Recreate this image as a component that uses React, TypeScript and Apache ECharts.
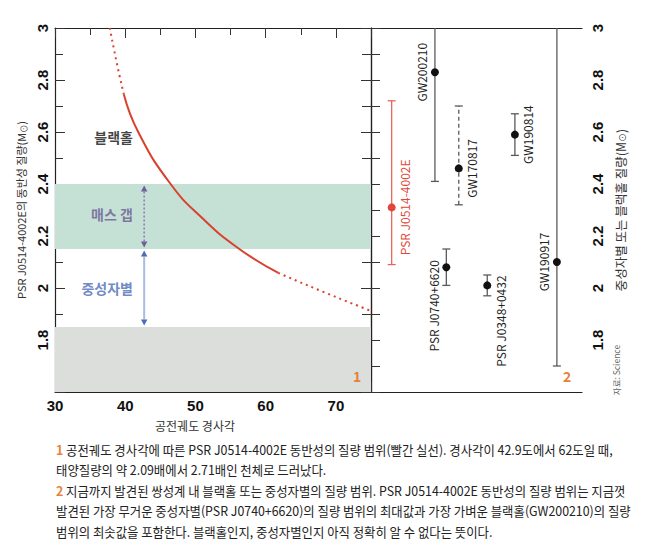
import React, { useEffect, useRef } from "react";
import * as echarts from "echarts";

// ---- Panel 1: companion mass vs orbital inclination ----
const curveUpperDotted = [[37.8, 3.0], [38.8, 2.865], [39.8, 2.745]];
const curveSolid = [[39.8, 2.745], [41.85, 2.6], [46.46, 2.4], [51.0, 2.268], [56.1, 2.153], [61.8, 2.058]];
const curveLowerDotted = [[61.8, 2.058], [68.3, 1.984], [74.8, 1.914]];

const massGapBand = [2.15, 2.4];
const neutronFloorBand = [1.6, 1.85];
const arrowInclination = 42.7;
const arrowRanges = [[2.4, 2.15], [2.15, 1.85]];

const regionNames = ["블랙홀", "매스 갭", "중성자별"];
const regionPoints = [[41.1, 2.58], [41.1, 2.286], [41.1, 2.0]];

// ---- Panel 2: known compact objects ----
const objectNames = ["PSR J0514-4002E", "GW200210", "PSR J0740+6620", "GW170817", "PSR J0348+0432", "GW190814", "GW190917"];
const objectSlot = [0.98, 3.03, 3.57, 4.16, 5.51, 6.82, 8.81];
const objectMass = [2.31, 2.83, 2.08, 2.46, 2.01, 2.59, 2.1];
const objectLow = [2.09, 2.41, 2.01, 2.32, 1.97, 2.51, 1.7];
const objectHigh = [2.72, 3.05, 2.15, 2.7, 2.05, 2.67, 3.05];

// label placement (style)
const labelSide = [1, -1, -1, 1, 1, 1, -1];
const labelAlign = ["center", "center", "right", "center", "right", "center", "center"];
const labelShift = [0, 0, 7, 0, 10, 0, 0];

const captionLines = [
  "{n|1} 공전궤도 경사각에 따른 PSR J0514-4002E 동반성의 질량 범위(빨간 실선). 경사각이 42.9도에서 62도일 때,",
  "태양질량의 약 2.09배에서 2.71배인 천체로 드러났다.",
  "{n|2} 지금까지 발견된 쌍성계 내 블랙홀 또는 중성자별의 질량 범위. PSR J0514-4002E 동반성의 질량 범위는 지금껏",
  "발견된 가장 무거운 중성자별(PSR J0740+6620)의 질량 범위의 최대값과 가장 가벼운 블랙홀(GW200210)의 질량",
  "범위의 최솟값을 포함한다. 블랙홀인지, 중성자별인지 아직 정확히 알 수 없다는 뜻이다.",
];
const captionY = [449, 469, 490, 510, 531];

const RED = "#d9412f";
const ORANGE = "#e8823a";
const KR = '"Noto Sans CJK KR", "Noto Sans", sans-serif';
const NUM = '"Liberation Sans", Arial, sans-serif';

const yTickFmt = (v: number) => (Math.abs(v - 1.6) < 1e-6 ? "" : String(Math.round(v * 10) / 10));
const xTickFmt = (v: number) => (v % 10 === 0 ? String(v) : "");

export default function App() {
  const ref = useRef<HTMLDivElement>(null);
  useEffect(() => {
    if (!ref.current) return;
    const chart = echarts.init(ref.current, null, { renderer: "svg" });

    const yCommon = {
      type: "value",
      min: 1.6,
      max: 3,
      interval: 0.2,
      splitLine: { show: false },
    };
    const xCommon = { type: "value", min: 30, max: 75, interval: 10, splitLine: { show: false } };

    const option: any = {
      animation: false,
      backgroundColor: "#fff",
      grid: [
        { left: 55, top: 28, right: 299, bottom: 164 },
        { left: 371, top: 28, right: 88, bottom: 164 },
      ],
      xAxis: [
        {
          ...xCommon,
          gridIndex: 0,
          position: "bottom",
          axisLine: { lineStyle: { color: "#222", width: 1.2 } },
          axisTick: { inside: true, length: 10, lineStyle: { color: "#333" } },
          minorTick: { show: true, splitNumber: 2, length: 7, lineStyle: { color: "#333" } },
          axisLabel: { margin: 6, fontSize: 15, fontWeight: "bold", color: "#111", fontFamily: NUM, formatter: xTickFmt, showMaxLabel: false },
        },
        {
          ...xCommon,
          gridIndex: 0,
          position: "top",
          axisLine: { lineStyle: { color: "#222", width: 1.2 } },
          axisTick: { inside: true, length: 10, lineStyle: { color: "#333" } },
          minorTick: { show: true, splitNumber: 2, length: 7, lineStyle: { color: "#333" } },
          axisLabel: { show: false },
        },
        {
          type: "value", gridIndex: 1, min: 0, max: 10, position: "bottom",
          axisLine: { lineStyle: { color: "#222", width: 1.2 } },
          axisTick: { show: false }, axisLabel: { show: false }, splitLine: { show: false },
        },
        {
          type: "value", gridIndex: 1, min: 0, max: 10, position: "top",
          axisLine: { lineStyle: { color: "#222", width: 1.2 } },
          axisTick: { show: false }, axisLabel: { show: false }, splitLine: { show: false },
        },
      ],
      yAxis: [
        {
          ...yCommon,
          gridIndex: 0,
          position: "left",
          axisLine: { show: true, lineStyle: { color: "#222", width: 1.2 } },
          axisTick: { show: true, inside: true, length: 10, lineStyle: { color: "#333" } },
          minorTick: { show: true, splitNumber: 2, length: 8, lineStyle: { color: "#333" } },
          axisLabel: { rotate: 90, margin: 5, fontSize: 15, fontWeight: "bold", color: "#111", fontFamily: NUM, formatter: yTickFmt },
          name: "PSR J0514-4002E의 동반성 질량(M{s|⊙})",
          nameLocation: "middle",
          nameRotate: 90,
          nameGap: 28,
          nameTextStyle: { fontSize: 11, color: "#333", fontFamily: KR, rich: { s: { fontSize: 8, padding: [5, 0, 0, 0], color: "#333" } } },
        },
        {
          ...yCommon,
          gridIndex: 0,
          position: "right",
          axisLine: { show: true, lineStyle: { color: "#777", width: 1.2 } },
          axisTick: { show: true, inside: true, length: 10, lineStyle: { color: "#333" } },
          minorTick: { show: true, splitNumber: 2, length: 8, lineStyle: { color: "#333" } },
          axisLabel: { show: false },
        },
        {
          ...yCommon,
          gridIndex: 1,
          position: "left",
          axisLine: { show: true, lineStyle: { color: "#777", width: 1.2 } },
          axisTick: { show: true, inside: true, length: 9, lineStyle: { color: "#333" } },
          minorTick: { show: true, splitNumber: 2, length: 9, lineStyle: { color: "#333" } },
          axisLabel: { show: false },
        },
        {
          ...yCommon,
          gridIndex: 1,
          position: "right",
          axisLine: { show: true, lineStyle: { color: "#222", width: 1.2 } },
          axisTick: { show: true, inside: true, length: 10, lineStyle: { color: "#333" } },
          minorTick: { show: true, splitNumber: 2, length: 9, lineStyle: { color: "#333" } },
          axisLabel: { rotate: 90, margin: 8, fontSize: 15, fontWeight: "bold", color: "#111", fontFamily: NUM, formatter: yTickFmt },
          name: "중성자별 또는 블랙홀 질량(M{s|⊙})",
          nameLocation: "middle",
          nameRotate: 90,
          nameGap: 31,
          nameTextStyle: { fontSize: 12.5, color: "#333", fontFamily: KR, rich: { s: { fontSize: 9, padding: [5, 0, 0, 0], color: "#333" } } },
        },
      ],
      series: [
        {
          type: "line",
          xAxisIndex: 0,
          yAxisIndex: 0,
          data: [],
          z: 1,
          markArea: {
            silent: true,
            data: [
              [{ yAxis: massGapBand[0], itemStyle: { color: "#c5e1d6" } }, { yAxis: massGapBand[1] }],
              [{ yAxis: neutronFloorBand[0], itemStyle: { color: "#dcdedc" } }, { yAxis: neutronFloorBand[1] }],
            ],
          },
        },
        {
          type: "line", xAxisIndex: 0, yAxisIndex: 0, data: curveUpperDotted, smooth: 0.5, symbol: "none", z: 3,
          lineStyle: { color: RED, width: 2, type: [2, 4] },
        },
        {
          type: "line", xAxisIndex: 0, yAxisIndex: 0, data: curveSolid, smooth: 0.5, symbol: "none", z: 3,
          lineStyle: { color: RED, width: 2 },
        },
        {
          type: "line", xAxisIndex: 0, yAxisIndex: 0, data: curveLowerDotted, smooth: 0.5, symbol: "none", z: 3,
          lineStyle: { color: RED, width: 2, type: [2, 4] },
        },
        {
          type: "custom",
          xAxisIndex: 0,
          yAxisIndex: 0,
          z: 4,
          data: arrowRanges.map((r) => [arrowInclination, r[0], r[1]]),
          renderItem: (params: any, api: any) => {
            const i = params.dataIndex;
            const a = api.coord([api.value(0), api.value(1)]);
            const b = api.coord([api.value(0), api.value(2)]);
            const lineColor = i === 0 ? "#8c82ad" : "#a9bbe0";
            const headColor = i === 0 ? "#6e5f98" : "#4a6db5";
            const x = a[0];
            const y1 = a[1] + 1.5;
            const y2 = b[1] - 1.5;
            const h = 6, w = 3.2;
            return {
              type: "group",
              children: [
                {
                  type: "line",
                  shape: { x1: x, y1: y1 + h, x2: x, y2: y2 - h },
                  style: { stroke: lineColor, lineWidth: i === 0 ? 1.6 : 2, lineDash: i === 0 ? [2, 2] : null },
                },
                { type: "polygon", shape: { points: [[x, y1], [x - w, y1 + h], [x + w, y1 + h]] }, style: { fill: headColor } },
                { type: "polygon", shape: { points: [[x, y2], [x - w, y2 - h], [x + w, y2 - h]] }, style: { fill: headColor } },
              ],
            };
          },
        },
        {
          type: "scatter",
          xAxisIndex: 0,
          yAxisIndex: 0,
          symbolSize: 0,
          z: 5,
          data: regionNames.map((n, i) => ({
            name: n,
            value: regionPoints[i],
            label: { color: ["#111", "#6a5b93", "#4a6db5"][i] },
          })),
          label: {
            show: true, position: "left", distance: 0, formatter: "{b}",
            fontSize: 14, fontWeight: "bold", fontFamily: KR,
          },
        },
        {
          type: "custom",
          xAxisIndex: 2,
          yAxisIndex: 2,
          z: 5,
          data: objectNames.map((n, i) => [objectSlot[i], objectMass[i], objectLow[i], objectHigh[i]]),
          renderItem: (params: any, api: any) => {
            const i = params.dataIndex;
            const x = api.value(0);
            const m = api.value(1);
            const lo = api.value(2);
            const hi = api.value(3);
            const top = Math.min(hi, 3);
            const pM = api.coord([x, m]);
            const pL = api.coord([x, lo]);
            const pH = api.coord([x, top]);
            const isRed = i === 0;
            const stroke = isRed ? "#e0685c" : "#5a5a5a";
            const dash = objectNames[i] === "GW170817" ? [4, 3] : null;
            const cap = 4;
            const children: any[] = [
              { type: "line", shape: { x1: pL[0], y1: pL[1], x2: pH[0], y2: pH[1] }, style: { stroke, lineWidth: 1.3, lineDash: dash } },
              { type: "line", shape: { x1: pL[0] - cap, y1: pL[1], x2: pL[0] + cap, y2: pL[1] }, style: { stroke, lineWidth: 1.3 } },
            ];
            if (hi <= 3) {
              children.push({ type: "line", shape: { x1: pH[0] - cap, y1: pH[1], x2: pH[0] + cap, y2: pH[1] }, style: { stroke, lineWidth: 1.3 } });
            }
            children.push({ type: "circle", shape: { cx: pM[0], cy: pM[1], r: 4 }, style: { fill: isRed ? "#e0473a" : "#111" } });
            children.push({
              type: "text",
              x: pM[0],
              y: pM[1],
              rotation: Math.PI / 2,
              style: {
                text: objectNames[i],
                x: labelShift[i],
                y: labelSide[i] * 13,
                align: labelAlign[i],
                verticalAlign: "middle",
                fill: isRed ? "#e0473a" : "#222",
                font: `12px ${KR}`,
              },
            });
            return { type: "group", children };
          },
        },
      ],
      graphic: [
        {
          type: "text", x: 195, y: 425, z: 100,
          style: { text: "공전궤도 경사각", align: "center", verticalAlign: "middle", fill: "#333", font: `12px ${KR}` },
        },
        {
          type: "text", x: 357, y: 376, z: 100,
          style: { text: "1", align: "center", verticalAlign: "middle", fill: ORANGE, font: `bold 14px ${KR}` },
        },
        {
          type: "text", x: 567, y: 376, z: 100,
          style: { text: "2", align: "center", verticalAlign: "middle", fill: ORANGE, font: `bold 14px ${KR}` },
        },
        {
          type: "text", x: 616, y: 370, rotation: Math.PI / 2, z: 100,
          style: { text: "자료: Science", align: "center", verticalAlign: "middle", fill: "#666", font: `8.5px ${KR}` },
        },
        ...captionLines.map((t, i) => ({
          type: "text",
          x: 56,
          y: captionY[i],
          z: 100,
          scaleX: 0.952,
          style: {
            text: t,
            align: "left",
            verticalAlign: "middle",
            fill: "#222",
            font: `13px ${KR}`,
            rich: { n: { fill: ORANGE, fontWeight: "bold", fontSize: 13, fontFamily: KR } },
          },
        })),
      ],
    };
    chart.setOption(option);
    return () => chart.dispose();
  }, []);
  return <div ref={ref} style={{ position: "fixed", left: 0, top: 0, width: 670, height: 556 }} />;
}
